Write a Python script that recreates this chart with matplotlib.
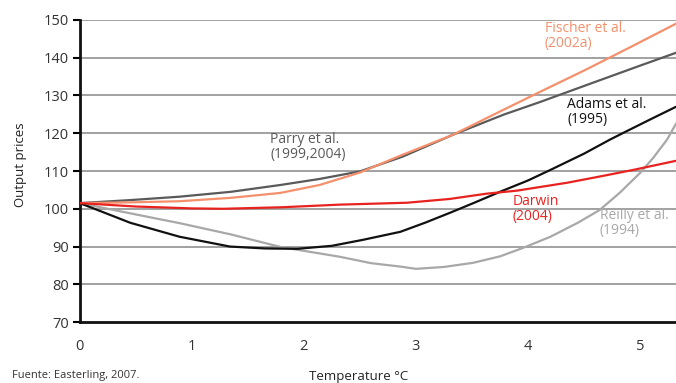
import matplotlib
matplotlib.use("Agg")
import matplotlib.pyplot as plt

# Data
parry_x = [0, 0.45, 0.89, 1.35, 1.79, 2.14, 2.5, 2.88, 3.33, 3.78, 4.11, 4.6, 5.0, 5.32]
parry_y = [101.5, 102.3, 103.2, 104.5, 106.3, 107.9, 109.9, 113.8, 119.6, 124.9, 128.3, 133.6, 137.9, 141.3]

fischer_x = [0, 0.45, 0.89, 1.35, 1.79, 2.14, 2.5, 2.88, 3.33, 3.78, 4.11, 4.5, 4.9, 5.32]
fischer_y = [101.5, 101.7, 102.0, 102.9, 104.2, 106.3, 109.6, 114.3, 119.6, 126.2, 131.0, 136.6, 142.6, 149.0]

adams_x = [0, 0.2, 0.45, 0.89, 1.34, 1.65, 1.94, 2.25, 2.53, 2.86, 3.08, 3.30, 3.52, 3.75, 4.0, 4.20, 4.5, 4.73, 4.85, 5.1, 5.32]
adams_y = [101.5, 99.2, 96.3, 92.6, 90.0, 89.5, 89.4, 90.2, 91.8, 93.9, 96.3, 98.9, 101.6, 104.5, 107.5, 110.3, 114.6, 118.3, 120.1, 123.8, 127.0]

darwin_x = [0, 0.5, 1.0, 1.28, 1.8, 2.32, 2.92, 3.3, 3.63, 3.9, 4.35, 4.65, 4.94, 5.32]
darwin_y = [101.5, 100.6, 100.1, 100.0, 100.4, 101.1, 101.6, 102.6, 104.0, 104.8, 106.9, 108.6, 110.3, 112.7]

reilly_x = [0, 0.45, 0.89, 1.35, 1.79, 2.32, 2.6, 2.86, 3.0, 3.25, 3.51, 3.75, 3.96, 4.2, 4.45, 4.64, 4.82, 5.0, 5.12, 5.24, 5.32]
reilly_y = [101.5, 98.8, 96.2, 93.2, 89.9, 87.3, 85.6, 84.7, 84.1, 84.6, 85.7, 87.4, 89.7, 92.6, 96.4, 99.7, 104.3, 109.5, 113.6, 118.3, 122.5]

x_ticks = [0, 1, 2, 3, 4, 5]
y_ticks = [70, 80, 90, 100, 110, 120, 130, 140, 150]

plt.rcParams['font.family'] = ['Open Sans', 'DejaVu Sans']

fig = plt.figure(figsize=(6.76, 3.83), dpi=100)
ax = fig.add_axes([0.118, 0.159, 0.882, 0.789])

c_parry = '#5a5a5a'
c_fischer = '#f4906c'
c_adams = '#111111'
c_darwin = '#e8231f'
c_reilly = '#a8a8a8'

for y in y_ticks[1:]:
    ax.axhline(y, color='#9a9a9a', lw=1.3, zorder=1)

ax.plot(reilly_x, reilly_y, color=c_reilly, lw=1.6, zorder=3)
ax.plot(parry_x, parry_y, color=c_parry, lw=1.6, zorder=3)
ax.plot(fischer_x, fischer_y, color=c_fischer, lw=1.6, zorder=4)
ax.plot(adams_x, adams_y, color=c_adams, lw=1.6, zorder=4)
ax.plot(darwin_x, darwin_y, color=c_darwin, lw=1.6, zorder=5)

ax.set_xlim(0, 5.32)
ax.set_ylim(70, 150)
ax.set_xticks(x_ticks)
ax.set_yticks(y_ticks)
ax.tick_params(axis='x', length=0, pad=12, labelsize=10.5, labelcolor='#333333')
ax.tick_params(axis='y', length=5, width=1.5, direction='out', pad=3, labelsize=10.5, labelcolor='#333333')

for s in ['top', 'right']:
    ax.spines[s].set_visible(False)
for s in ['left', 'bottom']:
    ax.spines[s].set_linewidth(2)
    ax.spines[s].set_color('#111111')
ax.spines['bottom'].set_zorder(6)

fs = 10
ax.text(1.70, 120.3, 'Parry et al.\n(1999,2004)', color=c_parry, fontsize=fs, va='top', ha='left', linespacing=1.0)
ax.text(4.15, 149.8, 'Fischer et al.\n(2002a)', color=c_fischer, fontsize=fs, va='top', ha='left', linespacing=1.0)
ax.text(4.35, 129.5, 'Adams et al.\n(1995)', color=c_adams, fontsize=fs, va='top', ha='left', linespacing=1.0)
ax.text(3.86, 104.0, 'Darwin\n(2004)', color=c_darwin, fontsize=fs, va='top', ha='left', linespacing=1.0)
ax.text(4.64, 100.3, 'Reilly et al.\n(1994)', color=c_reilly, fontsize=fs, va='top', ha='left', linespacing=1.0)

fig.text(0.03, 0.57, 'Output prices', rotation=90, ha='center', va='center', fontsize=9.5, color='#222222')
fig.text(0.53, 0.018, 'Temperature °C', ha='center', va='center', fontsize=9.5, color='#222222')
fig.text(0.018, 0.005, 'Fuente: Easterling, 2007.', ha='left', va='bottom', fontsize=8, color='#333333')

fig.savefig('out.png', dpi=100)
